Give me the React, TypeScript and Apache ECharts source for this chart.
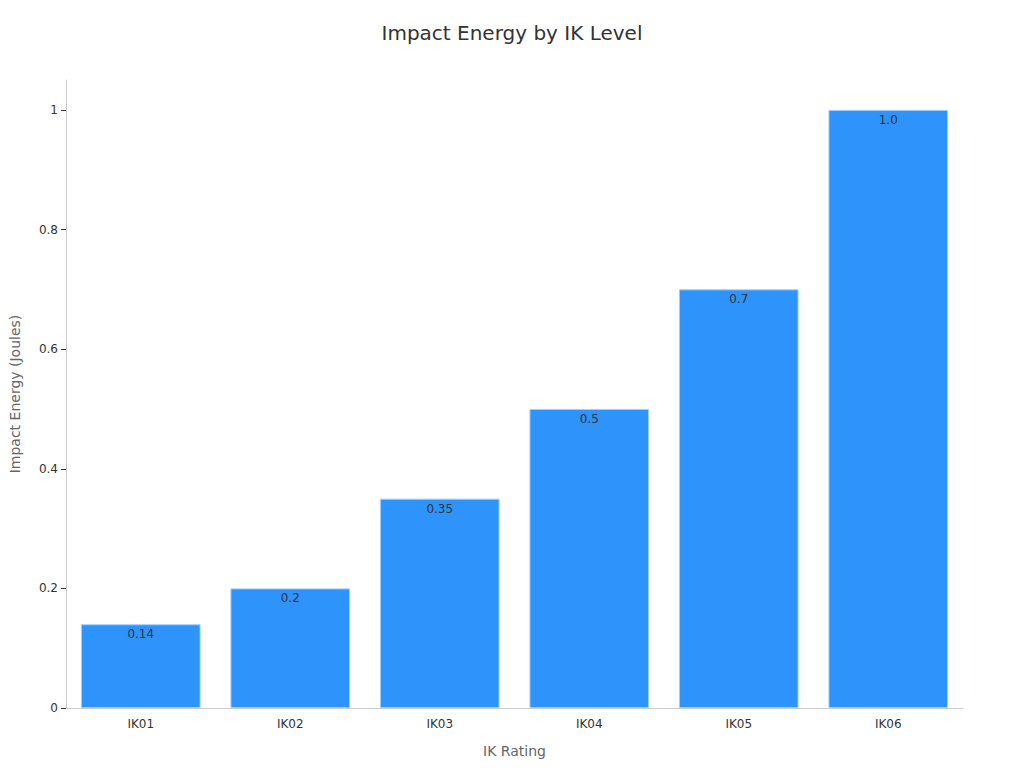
import { useEffect, useRef } from 'react';
import * as echarts from 'echarts';

const categories = ['IK01', 'IK02', 'IK03', 'IK04', 'IK05', 'IK06'];
const energy = [0.14, 0.2, 0.35, 0.5, 0.7, 1.0];
const valueLabels = ['0.14', '0.2', '0.35', '0.5', '0.7', '1.0'];
const yTicks = [0, 0.2, 0.4, 0.6, 0.8, 1];

export default function App() {
  const chartRef = useRef(null);

  useEffect(() => {
    const chart = echarts.init(chartRef.current, null, { renderer: 'svg' });
    const font = 'DejaVu Sans';
    const option = {
      animation: false,
      textStyle: { fontFamily: font },
      title: {
        text: 'Impact Energy by IK Level',
        left: 'center',
        top: 18,
        textStyle: { fontSize: 20, fontWeight: 'normal', color: '#333', fontFamily: font },
      },
      grid: { left: 64, right: 61, top: 80, bottom: 60 },
      xAxis: {
        type: 'category',
        data: categories,
        name: 'IK Rating',
        nameLocation: 'middle',
        nameGap: 36,
        nameTextStyle: { fontSize: 14, color: '#666' },
        axisLine: { lineStyle: { color: '#ccc' } },
        axisTick: { alignWithLabel: true, lineStyle: { color: '#999' } },
        axisLabel: { color: '#333', fontSize: 12, margin: 10 },
      },
      yAxis: {
        type: 'value',
        min: 0,
        max: 1.05,
        name: 'Impact Energy (Joules)',
        nameLocation: 'middle',
        nameGap: 44,
        nameTextStyle: { fontSize: 14, color: '#666' },
        axisLine: { show: true, lineStyle: { color: '#ccc' } },
        axisTick: { show: true, customValues: yTicks, lineStyle: { color: '#333' } },
        axisLabel: { customValues: yTicks, color: '#333', fontSize: 12 },
        splitLine: { show: false },
      },
      series: [
        {
          type: 'bar',
          data: energy,
          barWidth: '80%',
          itemStyle: { color: '#2e93fa', borderColor: '#9ccfff', borderWidth: 1 },
          label: {
            show: true,
            position: 'insideTop',
            distance: 4,
            color: '#333',
            fontSize: 12,
            formatter: (p: any) => valueLabels[p.dataIndex],
          },
        },
      ],
    };
    chart.setOption(option);
    return () => {
      chart.dispose();
    };
  }, []);

  return <div ref={chartRef} style={{ width: '1024px', height: '768px', margin: '-8px' }} />;
}
